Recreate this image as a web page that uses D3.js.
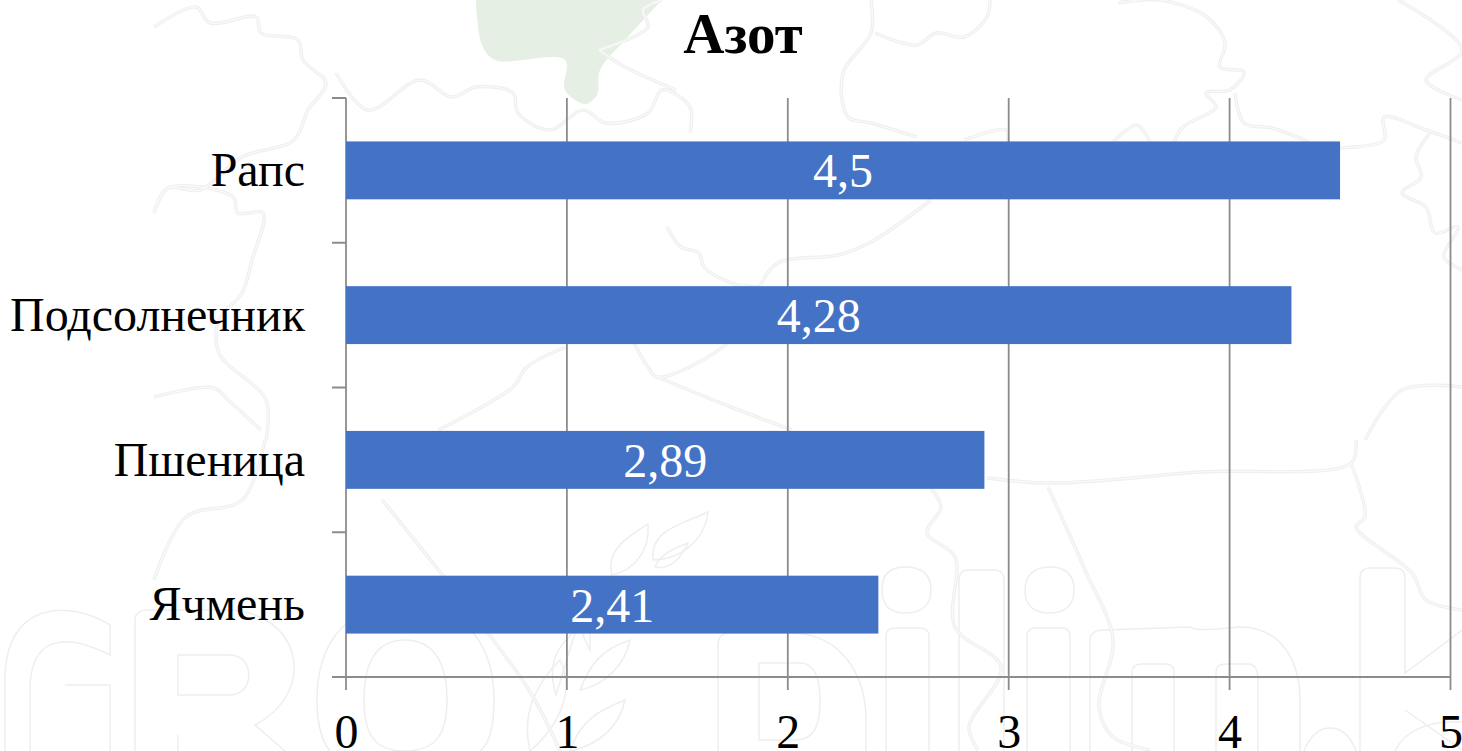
<!DOCTYPE html>
<html>
<head>
<meta charset="utf-8">
<script src="https://cdn.jsdelivr.net/npm/d3@7"></script>
<style>
    html, body { margin: 0; padding: 0; background: #fff; overflow: hidden; }
    svg { display: block; }
    text { font-family: "Liberation Serif", serif; }
</style>
</head>
<body>
<svg id="chart" width="1462" height="751"></svg>
<script>
var categories = ['Рапс', 'Подсолнечник', 'Пшеница', 'Ячмень'];
var values = [4.5, 4.28, 2.89, 2.41];
var labels = ['4,5', '4,28', '2,89', '2,41'];
var xTicks = [0, 1, 2, 3, 4, 5];

// background map outlines
var mapLines = [
    [[154,27],[196,7],[210,23],[256,17],[261,33],[298,40],[303,60],[326,83],[308,110],[294,140],[242,157],[200,190],[168,188],[154,213]],
    [[336,73],[368,110],[420,80],[452,97],[476,87],[513,93],[518,113],[550,130],[583,110],[606,123],[648,113],[662,90],[690,107],[690,133]],
    [[599,50],[648,27],[643,10],[662,0]],
    [[599,50],[625,67],[676,90]],
    [[154,213],[168,188],[233,197],[238,213],[263,213],[252,260],[242,293],[219,320],[219,353],[266,400],[266,440]],
    [[154,397],[214,388],[228,400],[261,430]],
    [[154,580],[186,517],[242,500],[265,440]],
    [[382,500],[396,517],[527,687],[560,751]],
    [[667,227],[681,247],[699,253],[704,267],[731,283],[759,287]],
    [[634,343],[648,367],[657,377],[731,340],[759,287],[778,263],[838,255],[871,242],[931,200]],
    [[657,377],[731,407],[792,430]],
    [[438,430],[513,387],[527,367],[566,347]],
    [[871,0],[871,33],[843,73],[848,117],[871,123],[917,137]],
    [[875,33],[917,45],[936,33],[964,37],[987,17],[990,0]],
    [[1118,3],[1160,0],[1207,17],[1225,43],[1220,67],[1244,72],[1230,90],[1206,93],[1216,107],[1183,127],[1174,142]],
    [[1235,93],[1244,123],[1272,128],[1309,142]],
    [[1113,142],[1137,125],[1150,142]],
    [[964,140],[1006,130],[1008,142]],
    [[1339,148],[1384,140],[1384,117],[1426,130],[1462,143]],
    [[1430,133],[1416,157],[1421,177],[1402,193],[1426,207],[1435,233],[1458,227],[1444,257],[1462,270]],
    [[1398,0],[1462,50],[1426,80],[1462,100]],
    [[1365,440],[1402,390],[1462,387]],
    [[1356,440],[1351,463],[1200,472],[1053,483],[987,478]],
    [[1048,487],[1085,570],[1113,640],[1099,707],[1113,737],[1150,750]],
    [[1351,463],[1365,517],[1356,527],[1412,573],[1426,600],[1462,610]],
    [[931,488],[941,507],[927,533],[955,557],[955,627],[1001,667],[969,727],[978,750]]
];

// outlines of the watermark lettering
var lettering = [
    'M110,625 C70,600 5,600 5,680 L5,751 M110,625 L110,655 C60,630 30,640 30,690 L30,751 M65,751 L65,780 M65,685 L110,685 L110,751',
    'M135,751 L135,620 Q135,610 150,610 L225,610 C300,610 320,690 255,725 L285,751 M178,655 L178,695 L230,695 C255,695 255,655 230,655 Z M178,735 L178,751',
    'M405,605 C340,605 317,650 317,700 C317,730 325,745 330,751 M405,605 C470,605 494,650 494,700 C494,730 488,745 480,751 M405,640 C375,640 364,665 364,700 C364,735 375,751 405,751 C435,751 447,735 447,700 C447,665 435,640 405,640 Z',
    'M718,751 L718,645 Q718,633 730,633 L790,633 C845,633 866,680 866,720 L866,751 M759,663 L800,663 C815,663 820,680 820,700 C820,725 815,740 795,740 L759,740 Z',
    'M886,751 L886,636 Q886,628 895,628 L920,628 Q929,628 929,636 L929,751',
    'M959,751 L959,580 Q959,570 969,570 L994,570 Q1004,570 1004,580 L1004,751',
    'M1027,751 L1027,636 Q1027,628 1036,628 L1061,628 Q1070,628 1070,636 L1070,751',
    'M1090,751 L1090,640 Q1090,630 1105,630 L1190,627 Q1195,632 1240,627 C1280,627 1300,660 1300,700 L1300,751 M1132,751 L1132,672 Q1132,664 1142,664 L1165,664 Q1174,664 1174,672 L1174,751 M1216,751 L1216,672 Q1216,664 1226,664 L1248,664 Q1258,664 1258,680 L1258,751',
    'M1360,751 L1360,578 Q1360,568 1370,568 L1395,568 Q1405,568 1405,578 L1405,673 L1462,630 M1405,710 L1462,750',
    'M1304,751 C1310,735 1320,728 1330,728 C1345,728 1352,740 1356,751',
    'M1395,751 C1405,730 1430,720 1462,722',
    'M905,567 C885,567 882,580 882,590 C882,605 890,613 905,613 C925,613 931,602 931,590 C931,577 925,567 905,567 Z',
    'M1050,567 C1030,567 1025,580 1025,590 C1025,605 1033,613 1050,613 C1068,613 1074,602 1074,590 C1074,577 1068,567 1050,567 Z'
];

// wheat ear leaves
var leaves = [
    'M653,560 C650,530 680,525 708,512 C705,540 680,560 653,560 Z',
    'M612,575 C605,550 630,535 648,524 C650,550 635,570 612,575 Z',
    'M655,567 C660,555 670,550 688,543 C680,560 670,570 655,567 Z',
    'M590,650 C575,625 585,600 556,695 C545,660 560,640 590,620 Z',
    'M580,690 C590,665 600,650 630,640 C625,665 605,685 580,690 Z',
    'M530,751 C520,710 540,680 560,660 C575,690 560,725 530,751 Z',
    'M570,751 C580,720 600,710 625,700 C620,725 600,745 570,751 Z'
];

var blob = [[476,0],[482,45],[495,60],[565,60],[565,90],[585,104],[597,95],[600,70],[625,40],[662,0]];

var svg = d3.select('#chart');
var plotLeft = 346, plotRight = 1450.5, plotTop = 98, plotBottom = 677;
var axisColor = '#8c8c8c';

var x = d3.scaleLinear().domain([0, 5]).range([plotLeft, plotRight]);
var y = d3.scaleBand().domain(categories).range([plotTop, plotBottom]);
var barH = y.bandwidth() * 0.4;

// watermark
var bg = svg.append('g');
var mapPath = d3.line().curve(d3.curveCatmullRom.alpha(0.5));
bg.append('path')
    .attr('d', mapPath(blob) + 'Z')
    .attr('fill', '#e6efe3');
bg.selectAll('path.letter').data(lettering).enter().append('path')
    .attr('class', 'letter')
    .attr('d', function(d) { return d; })
    .attr('fill', 'none')
    .attr('stroke', '#eeeeee')
    .attr('stroke-width', 1.5);
bg.selectAll('path.leaf').data(leaves).enter().append('path')
    .attr('class', 'leaf')
    .attr('d', function(d) { return d; })
    .attr('fill', 'none')
    .attr('stroke', '#eeeeee')
    .attr('stroke-width', 1.5);
bg.selectAll('path.mapOuter').data(mapLines).enter().append('path')
    .attr('class', 'mapOuter')
    .attr('d', mapPath)
    .attr('fill', 'none')
    .attr('stroke', '#efefef')
    .attr('stroke-width', 3.5);
bg.selectAll('path.mapInner').data(mapLines).enter().append('path')
    .attr('class', 'mapInner')
    .attr('d', mapPath)
    .attr('fill', 'none')
    .attr('stroke', '#fafafa')
    .attr('stroke-width', 1.2);

// grid lines
svg.append('g').selectAll('line').data(xTicks).enter().append('line')
    .attr('x1', function(d) { return x(d); })
    .attr('x2', function(d) { return x(d); })
    .attr('y1', plotTop)
    .attr('y2', plotBottom + 13)
    .attr('stroke', axisColor)
    .attr('stroke-width', 1.8);

// bars
svg.append('g').selectAll('rect').data(values).enter().append('rect')
    .attr('x', x(0))
    .attr('y', function(d, i) { return y(categories[i]) + (y.bandwidth() - barH) / 2; })
    .attr('width', function(d) { return x(d) - x(0); })
    .attr('height', barH)
    .attr('fill', '#4472c4');

// value labels
svg.append('g').selectAll('text').data(values).enter().append('text')
    .attr('x', function(d) { return (x(d) + x(0)) / 2; })
    .attr('y', function(d, i) { return y(categories[i]) + y.bandwidth() / 2 + 17; })
    .attr('text-anchor', 'middle')
    .attr('fill', '#fff')
    .style('font-size', '48px')
    .text(function(d, i) { return labels[i]; });

// y axis
var yAxis = d3.axisLeft(y).tickSize(0).tickPadding(41);
var yG = svg.append('g').attr('transform', 'translate(' + plotLeft + ',0)').call(yAxis);
yG.select('.domain').remove();
yG.selectAll('text')
    .style('font-size', '48px')
    .style('font-family', '"Liberation Serif", serif')
    .attr('fill', '#000')
    .attr('dy', '0.33em');
var yTicks = d3.range(categories.length + 1);
svg.append('g').selectAll('line').data(yTicks).enter().append('line')
    .attr('x1', plotLeft)
    .attr('x2', plotLeft - 14)
    .attr('y1', function(d) { return plotTop + d * y.step(); })
    .attr('y2', function(d) { return plotTop + d * y.step(); })
    .attr('stroke', axisColor)
    .attr('stroke-width', 2);
svg.append('line')
    .attr('x1', plotLeft).attr('x2', plotRight)
    .attr('y1', plotBottom).attr('y2', plotBottom)
    .attr('stroke', axisColor).attr('stroke-width', 2.2);

// x axis labels
var xAxis = d3.axisBottom(x).tickValues(xTicks).tickFormat(d3.format('d')).tickSize(0).tickPadding(0);
var xG = svg.append('g').attr('transform', 'translate(0,' + plotBottom + ')').call(xAxis);
xG.select('.domain').remove();
xG.selectAll('text')
    .style('font-size', '48px')
    .style('font-family', '"Liberation Serif", serif')
    .attr('fill', '#000')
    .attr('y', 71)
    .attr('dy', 0);

svg.append('text')
    .attr('x', 743)
    .attr('y', 53)
    .attr('text-anchor', 'middle')
    .style('font-size', '57px')
    .style('font-weight', 'bold')
    .text('Азот');
</script>
</body>
</html>
